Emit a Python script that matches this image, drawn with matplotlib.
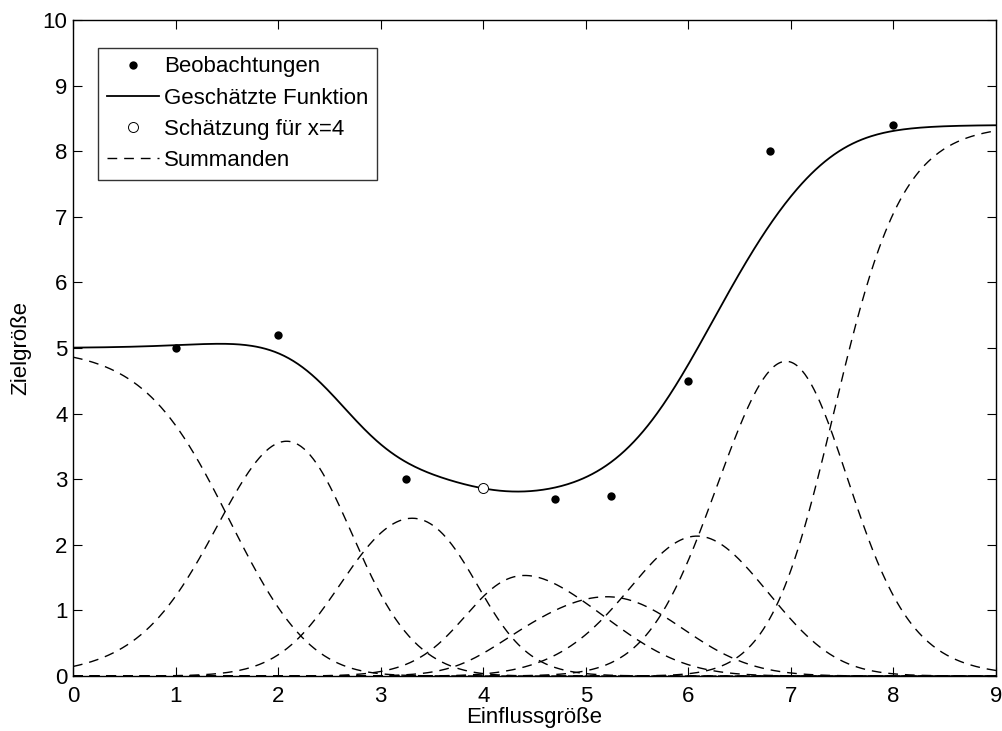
import numpy as np
import matplotlib
matplotlib.use("Agg")
import matplotlib.pyplot as plt
from matplotlib.lines import Line2D

plt.rcParams['font.family'] = ['Liberation Sans', 'DejaVu Sans']

# Observations
obs_x = [1.0, 2.0, 3.25, 4.7, 5.25, 6.0, 6.8, 8.0]
obs_y = [5.0, 5.2, 3.0, 2.7, 2.75, 4.5, 8.0, 8.4]
bandwidth = 0.65
query_x = 4.0

x_ticks = [0, 1, 2, 3, 4, 5, 6, 7, 8, 9]
y_ticks = [0, 1, 2, 3, 4, 5, 6, 7, 8, 9, 10]

FS = 16

# Nadaraya-Watson kernel regression with a Gaussian kernel
def weights(x):
    x = np.atleast_1d(x)[:, None]
    k = np.exp(-0.5 * ((x - np.array(obs_x)[None, :]) / bandwidth) ** 2)
    return k / k.sum(axis=1, keepdims=True)

grid = np.linspace(0, 9, 600)
W = weights(grid)
summands = W * np.array(obs_y)[None, :]
estimate = summands.sum(axis=1)
query_est = (weights(query_x) * np.array(obs_y)).sum()

fig = plt.figure(figsize=(10.03, 7.31), dpi=100)
ax = fig.add_axes([73 / 1003, (731 - 676) / 731, 923 / 1003, 656 / 731])

lw_d = 1.0
dash = (0, (7.0 / lw_d, 5.0 / lw_d))
for i in range(len(obs_x)):
    ax.plot(grid, summands[:, i], color='black', lw=lw_d, linestyle=dash)
ax.plot(grid, estimate, color='black', lw=1.3)
ax.plot(obs_x, obs_y, 'o', color='black', markersize=6, markeredgewidth=0)
ax.plot([query_x], [query_est], 'o', markerfacecolor='white', markeredgecolor='black',
        markersize=7.2, markeredgewidth=0.7)

ax.set_xlim(0, 9)
ax.set_ylim(0, 10)
ax.set_xticks(x_ticks)
ax.set_yticks(y_ticks)
ax.tick_params(direction='in', length=6.5, width=0.8, top=True, right=True,
               labelsize=FS)
ax.tick_params(axis='x', pad=7)
ax.tick_params(axis='y', pad=4)
for s in ax.spines.values():
    s.set_linewidth(1.0)

ax.set_xlabel('Einflussgröße', fontsize=FS, labelpad=0)
ax.set_ylabel('Zielgröße', fontsize=FS, labelpad=8)

handles = [
    Line2D([], [], marker='o', color='black', linestyle='none', markersize=6, markeredgewidth=0),
    Line2D([], [], color='black', lw=1.3),
    Line2D([], [], marker='o', linestyle='none', markerfacecolor='white', markeredgecolor='black',
           markersize=7.2, markeredgewidth=0.7),
    Line2D([], [], color='black', lw=lw_d, linestyle=dash),
]
labels = ['Beobachtungen', 'Geschätzte Funktion', 'Schätzung für x=4', 'Summanden']
leg = ax.legend(handles, labels, loc='upper left', bbox_to_anchor=(25.5 / 923, 1 - 28 / 656),
                fontsize=FS, frameon=True, fancybox=False, edgecolor='black',
                borderaxespad=0, handlelength=2.35, handletextpad=0.22,
                labelspacing=0.46, borderpad=0.38)
leg.get_frame().set_linewidth(1.0)

fig.savefig('out.png', dpi=100)
